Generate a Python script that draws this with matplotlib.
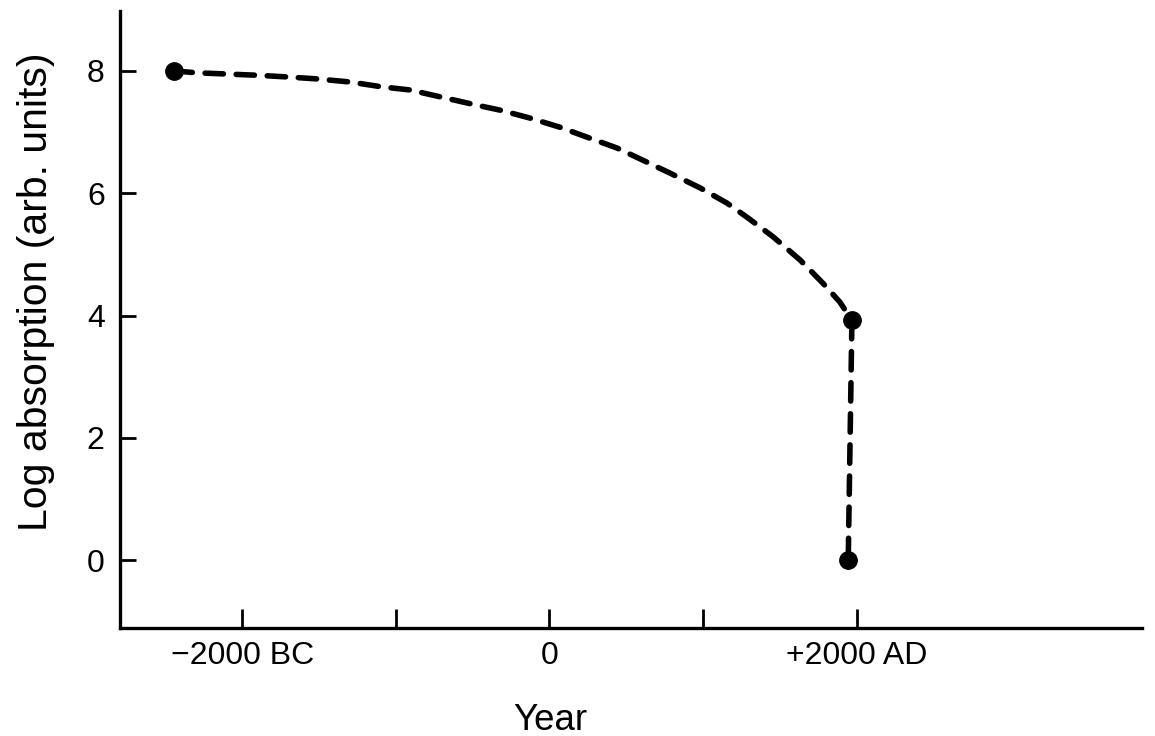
import matplotlib
matplotlib.use("Agg")
import matplotlib.pyplot as plt

plt.rcParams['font.family'] = ['Liberation Sans', 'DejaVu Sans']

# Data
curve_year = [-2445, -2296, -2100, -1905, -1690, -1514, -1299, -1091, -909, -700,
              -472, -322, -127, 68, 264, 440, 609, 785, 980, 1156, 1286, 1456,
              1632, 1781, 1892, 1970]
curve_logabs = [8.0, 7.97, 7.95, 7.93, 7.90, 7.87, 7.82, 7.74, 7.69, 7.57,
                7.44, 7.36, 7.23, 7.08, 6.90, 6.74, 6.54, 6.33, 6.09, 5.84, 5.61, 5.29,
                4.91, 4.53, 4.22, 3.92]
drop_year = [1970, 1946]
drop_logabs = [3.92, 0.0]
point_year = [-2445, 1970, 1946]
point_logabs = [8.0, 3.92, 0.0]

xtick_vals = [-2000, -1000, 0, 1000, 2000]
xtick_labels = ['\u22122000 BC', '', '0', '', '+2000 AD']
ytick_vals = [0, 2, 4, 6, 8]
ytick_labels = ['0', '2', '4', '6', '8']

fig = plt.figure(figsize=(11.55, 7.36), dpi=100)
ax = fig.add_axes([0.1039, 0.1467, 0.8848, 0.8383])

dash = (3.3, 2.3)
for xs, ys in [(curve_year, curve_logabs), (drop_year, drop_logabs)]:
    ax.plot(xs, ys, color='black', lw=4.0, linestyle=(0, dash),
            dash_capstyle='round')
ax.plot(point_year, point_logabs, 'o', color='black', markersize=12.5, zorder=5)

ax.set_xlim(-2797, 3859)
ax.set_ylim(-1.109, 8.98)

for s in ['top', 'right']:
    ax.spines[s].set_visible(False)
for s in ['left', 'bottom']:
    ax.spines[s].set_linewidth(2.4)

ax.set_xticks(xtick_vals)
ax.set_xticklabels(xtick_labels)
ax.set_yticks(ytick_vals)
ax.set_yticklabels(ytick_labels)
ax.tick_params(axis='x', direction='in', length=14, width=2, pad=9.5, labelsize=23)
ax.tick_params(axis='y', direction='in', length=11.5, width=2, pad=11, labelsize=23)

ax.set_xlabel('Year', fontsize=26.5)
ax.xaxis.set_label_coords(0.4207, -0.122)
ax.set_ylabel('Log absorption (arb. units)', fontsize=29.5)
ax.yaxis.set_label_coords(-0.0640, 0.5446)

fig.savefig('out.png', dpi=100)
